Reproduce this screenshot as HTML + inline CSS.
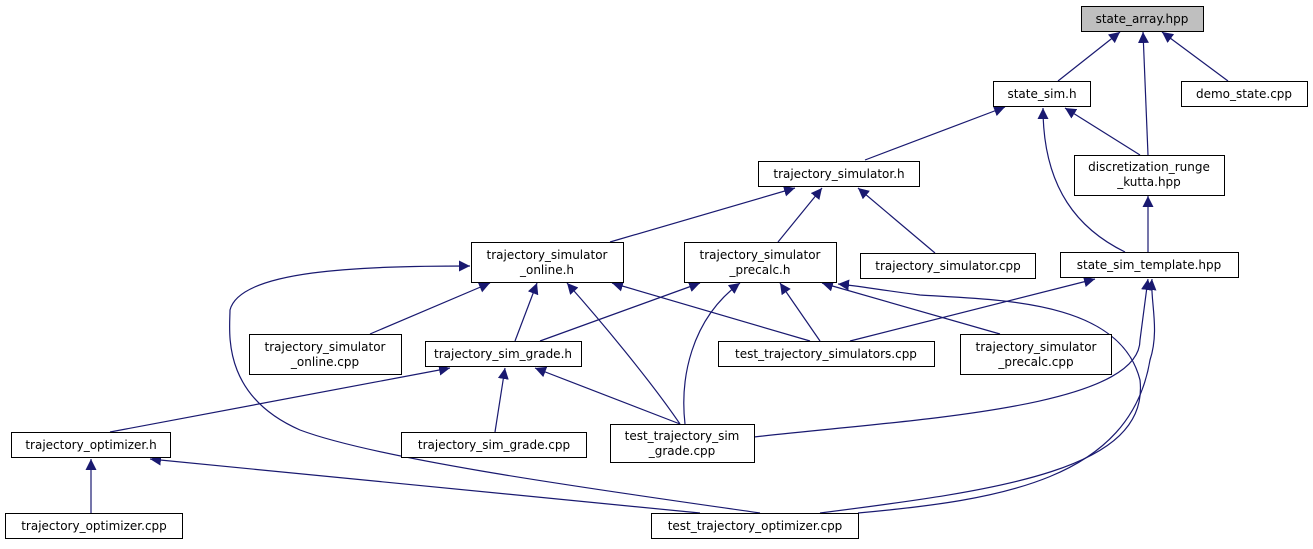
<!DOCTYPE html>
<html><head><meta charset="utf-8"><style>
html,body{margin:0;padding:0;background:#fff;}
svg text{font-family:"DejaVu Sans","Liberation Sans",sans-serif;font-size:12px;fill:#000;}
</style></head><body>
<svg width="1313" height="544" xmlns="http://www.w3.org/2000/svg">
<defs><marker id="a" viewBox="0 0 10 10" refX="10" refY="5" markerWidth="11" markerHeight="11" markerUnits="userSpaceOnUse" orient="auto"><path d="M0,0 L10,5 L0,10 z" fill="#191970"/></marker></defs>
<g stroke="#191970" stroke-width="1.2" fill="none" marker-end="url(#a)">
<path d="M1058,81 L1120,32"/>
<path d="M1228,81 L1162,32"/>
<path d="M1148,155 L1143,32"/>
<path d="M865,160 L1005,107"/>
<path d="M1140,155 L1065,108"/>
<path d="M1125,252 C1080,230 1043,190 1043,108"/>
<path d="M1148,252 L1148,196"/>
<path d="M610,242 L795,188"/>
<path d="M778,242 L822,188"/>
<path d="M935,253 L858,188"/>
<path d="M370,334 L490,283"/>
<path d="M515,341 L537,283"/>
<path d="M810,341 L612,283"/>
<path d="M680,424 C650,380 600,320 567,283"/>
<path d="M760,513 C600,490 380,460 300,430 C220,395 230,330 230,310 C240,270 360,266 470,266"/>
<path d="M540,341 L700,283"/>
<path d="M820,341 L780,283"/>
<path d="M685,424 C680,380 690,320 740,283"/>
<path d="M1000,334 L822,283"/>
<path d="M820,513 C1000,490 1150,470 1140,380 C1120,300 1000,300 920,295 C880,290 860,286 838,284"/>
<path d="M850,341 L1095,279"/>
<path d="M754,437 C900,420 1140,410 1140,340 L1148,279"/>
<path d="M858,513 C1000,500 1130,480 1150,360 C1160,330 1150,300 1152,279"/>
<path d="M110,432 L450,368"/>
<path d="M495,432 L505,368"/>
<path d="M680,424 L535,368"/>
<path d="M91,513 L91,459"/>
<path d="M700,513 L150,459"/>
</g>
<g stroke="#000" stroke-width="1" fill="#fff">
<rect x="1081.5" y="6.5" width="122" height="25" fill="#bfbfbf"/>
<rect x="993.5" y="81.5" width="97" height="25"/>
<rect x="1181.5" y="81.5" width="126" height="25"/>
<rect x="758.5" y="161.5" width="161" height="25"/>
<rect x="1074.5" y="155.5" width="150" height="40"/>
<rect x="471.5" y="242.5" width="152" height="40"/>
<rect x="684.5" y="242.5" width="152" height="40"/>
<rect x="860.5" y="253.5" width="175" height="25"/>
<rect x="1060.5" y="252.5" width="178" height="25"/>
<rect x="249.5" y="334.5" width="152" height="40"/>
<rect x="425.5" y="341.5" width="156" height="25"/>
<rect x="718.5" y="341.5" width="216" height="25"/>
<rect x="960.5" y="334.5" width="151" height="40"/>
<rect x="11.5" y="432.5" width="159" height="25"/>
<rect x="401.5" y="432.5" width="185" height="25"/>
<rect x="610.5" y="424.5" width="144" height="38"/>
<rect x="5.5" y="513.5" width="177" height="25"/>
<rect x="651.5" y="513.5" width="207" height="25"/>
</g>
<g text-anchor="middle">
<text x="1142" y="23">state_array.hpp</text>
<text x="1042" y="98">state_sim.h</text>
<text x="1244" y="98">demo_state.cpp</text>
<text x="839" y="178">trajectory_simulator.h</text>
<text x="1149" y="171">discretization_runge</text>
<text x="1149" y="186">_kutta.hpp</text>
<text x="547" y="259">trajectory_simulator</text>
<text x="547" y="274">_online.h</text>
<text x="760" y="259">trajectory_simulator</text>
<text x="760" y="274">_precalc.h</text>
<text x="948" y="270">trajectory_simulator.cpp</text>
<text x="1149" y="269">state_sim_template.hpp</text>
<text x="325" y="351">trajectory_simulator</text>
<text x="325" y="366">_online.cpp</text>
<text x="503" y="358">trajectory_sim_grade.h</text>
<text x="826" y="358">test_trajectory_simulators.cpp</text>
<text x="1036" y="351">trajectory_simulator</text>
<text x="1036" y="366">_precalc.cpp</text>
<text x="91" y="449">trajectory_optimizer.h</text>
<text x="494" y="449">trajectory_sim_grade.cpp</text>
<text x="682" y="440">test_trajectory_sim</text>
<text x="682" y="455">_grade.cpp</text>
<text x="94" y="530">trajectory_optimizer.cpp</text>
<text x="755" y="530">test_trajectory_optimizer.cpp</text>
</g>
</svg>
</body></html>
